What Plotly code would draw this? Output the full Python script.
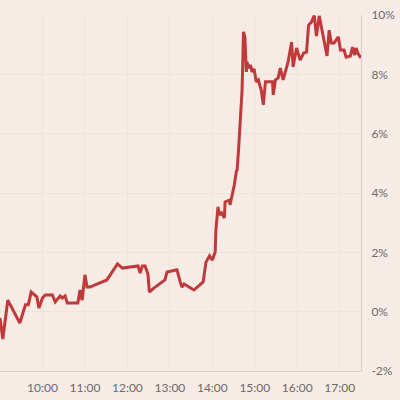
import plotly.graph_objects as go

day = "2024-01-02 "
times = ["09:00","09:04","09:11","09:28","09:36","09:40","09:44","09:52","09:55","10:00",
         "10:04","10:14","10:18","10:25","10:28","10:32","10:35","10:50","10:53","10:56",
         "11:00","11:03","11:07","11:31","11:46","11:53","12:15","12:18","12:21","12:25",
         "12:29","12:31","12:36","12:53","12:56","13:10","13:15","13:17","13:20","13:34",
         "13:47","13:51","13:56","14:00","14:04","14:05","14:08","14:10","14:13","14:17",
         "14:18","14:24","14:25","14:31","14:34","14:35","14:37","14:39","14:41","14:42",
         "14:44","14:46","14:48","14:49","14:51","14:54","14:56","14:59","15:02","15:05",
         "15:09","15:12","15:15","15:25","15:26","15:29","15:33","15:36","15:40","15:47",
         "15:52","15:54","15:59","16:04","16:09","16:13","16:16","16:20","16:24","16:27",
         "16:31","16:35","16:40","16:42","16:45","16:48","16:52","16:58","17:01","17:06",
         "17:09","17:15","17:18","17:21","17:23","17:26","17:30"]
change_pct = [-0.21,-0.92,0.39,-0.38,0.23,0.23,0.66,0.50,0.12,0.46,
              0.56,0.56,0.33,0.53,0.46,0.53,0.29,0.29,0.73,0.39,
              1.24,0.83,0.83,1.07,1.61,1.47,1.54,1.30,1.54,1.54,
              1.27,0.66,0.77,1.07,1.34,1.41,0.97,0.83,0.93,0.73,
              1.00,1.67,1.88,1.74,2.01,2.75,3.53,3.26,3.33,3.16,
              3.70,3.76,3.60,4.27,4.74,4.78,5.45,6.19,6.90,7.47,
              9.43,9.26,8.08,8.42,8.21,8.31,8.08,8.18,7.75,7.81,
              7.47,6.97,7.75,7.75,7.31,7.81,7.88,8.21,7.81,8.42,
              9.09,8.25,8.89,8.48,8.72,8.75,9.66,9.76,9.98,9.29,
              9.97,9.49,8.82,8.62,9.49,9.06,9.06,9.26,8.82,8.82,
              8.58,8.62,8.92,8.65,8.89,8.69,8.55]
x_ticks = ["10:00","11:00","12:00","13:00","14:00","15:00","16:00","17:00"]
y_ticks = [-2, 0, 2, 4, 6, 8, 10]

bg = "#f6ebe5"
grid = "#efe2d8"
axis_line = "#dccdc4"
label_color = "#6e6a68"

fig = go.Figure()
fig.add_trace(go.Scatter(
    x=[day + t for t in times], y=change_pct, mode="lines",
    line=dict(color="#c0393b", width=3), hoverinfo="skip", showlegend=False))

fig.update_layout(
    width=400, height=400,
    margin=dict(l=0, r=39, t=15, b=29),
    paper_bgcolor=bg, plot_bgcolor=bg,
    font=dict(family="Lato", size=12, color=label_color),
)
fig.update_xaxes(
    type="date",
    range=[day + "09:00", day + "17:30"],
    tickvals=[day + t for t in x_ticks], ticktext=x_ticks,
    showgrid=True, gridcolor=grid, gridwidth=1,
    showline=True, linecolor=axis_line, linewidth=1,
    ticks="", ticklabelstandoff=6, zeroline=False,
)
fig.update_yaxes(
    side="right", range=[-2, 10],
    tickvals=y_ticks, ticktext=[f"{v}%" for v in y_ticks],
    showgrid=True, gridcolor=grid, gridwidth=1,
    showline=True, linecolor=axis_line, linewidth=1,
    ticks="", ticklabelstandoff=7, zeroline=False,
)
fig.write_html("out.html", config={"displayModeBar": False},
               post_script="document.body.style.margin='0';document.body.style.background='" + bg + "';")
